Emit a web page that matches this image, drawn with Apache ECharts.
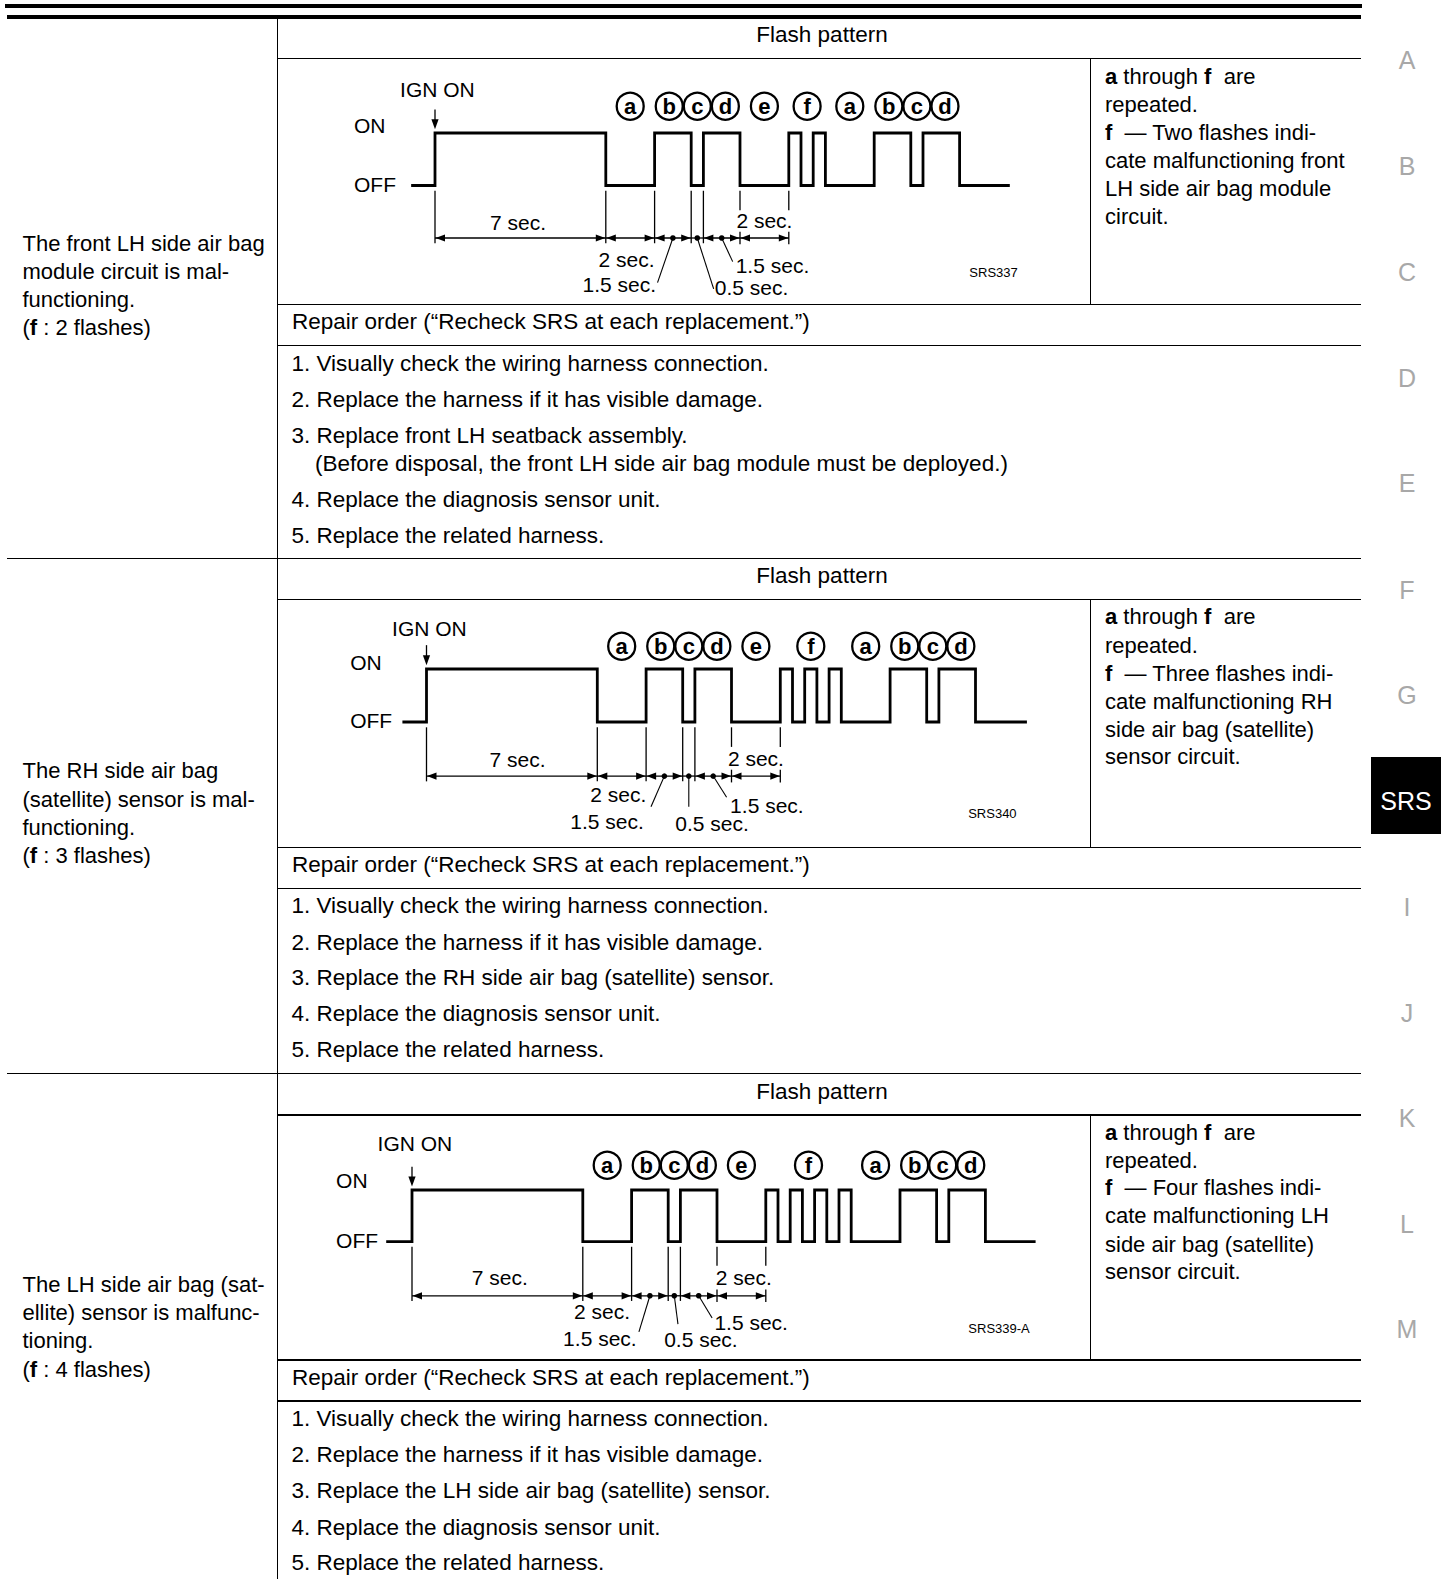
<!DOCTYPE html>
<html><head><meta charset="utf-8">
<script src="https://cdn.jsdelivr.net/npm/echarts@6/dist/echarts.min.js"></script>
<style>
html,body{margin:0;padding:0;background:#fff;}
body{width:1441px;height:1579px;position:relative;overflow:hidden;font-family:"Liberation Sans",Arial,Helvetica,sans-serif;color:#000;}
.ln{position:absolute;background:#000;}
.t{position:absolute;font-size:22px;line-height:28px;height:28px;white-space:nowrap;}
.mid{font-size:22.5px;}
.c{text-align:center;}
.m{position:absolute;font-size:25px;line-height:30px;height:30px;color:#a8a8a8;width:70px;text-align:center;}
.chart{position:absolute;}
</style></head><body>
<div id="d1" class="chart" style="left:278px;top:59px;width:811px;height:244px"></div>
<div id="d2" class="chart" style="left:278px;top:600px;width:811px;height:246px"></div>
<div id="d3" class="chart" style="left:278px;top:1116px;width:811px;height:243px"></div>
<script>
// ---------- DATA ----------
// flash patterns: transition times (seconds after IGN ON) and lamp state from that time (1 = ON, 0 = OFF)
const flashTimes1  = [-0.92, 0, 7, 9, 10.5, 11, 12.5, 14.5, 15, 15.5, 16, 18, 19.5, 20, 21.5, 23.5];
const flashStates1 = [0, 1, 0, 1, 0, 1, 0, 1, 0, 1, 0, 1, 0, 1, 0, 0];
const flashTimes2  = [-0.93, 0, 7, 9, 10.5, 11, 12.5, 14.5, 15, 15.5, 16, 16.5, 17, 19, 20.5, 21, 22.5, 24.55];
const flashStates2 = [0, 1, 0, 1, 0, 1, 0, 1, 0, 1, 0, 1, 0, 1, 0, 1, 0, 0];
const flashTimes3  = [-1.0, 0, 7, 9, 10.5, 11, 12.5, 14.5, 15, 15.5, 16, 16.5, 17, 17.5, 18, 20, 21.5, 22, 23.5, 25.5];
const flashStates3 = [0, 1, 0, 1, 0, 1, 0, 1, 0, 1, 0, 1, 0, 1, 0, 1, 0, 1, 0, 0];

// circled segment letters and the time spans they label
const letterNames  = ['a', 'b', 'c', 'd', 'e', 'f', 'a', 'b', 'c', 'd'];
const letterSpans1 = [[7,9],[9,10.5],[10.5,11],[11,12.5],[12.5,14.5],[14.5,16],[16,18],[18,19.5],[19.5,20],[20,21.5]];
const letterSpans2 = [[7,9],[9,10.5],[10.5,11],[11,12.5],[12.5,14.5],[14.5,17],[17,19],[19,20.5],[20.5,21],[21,22.5]];
const letterSpans3 = [[7,9],[9,10.5],[10.5,11],[11,12.5],[12.5,14.5],[14.5,18],[18,20],[20,21.5],[21.5,22],[22,23.5]];

// dimension annotations (seconds)
const dimSpans  = [[0,7],[7,9],[9,10.5],[10.5,11],[11,12.5],[12.5,14.5]];
const dimHeads  = [1, 1, 1, 0, 1, 1];
const dimDots   = [0, 0, 1, 1, 1, 0];
const dimLabels = ['7 sec.', '2 sec.', '1.5 sec.', '0.5 sec.', '1.5 sec.', '2 sec.'];
const extLong   = [0, 7, 9, 10.5, 11];
const extShort  = [12.5, 14.5];

// label positions per diagram (t in seconds, y in ON/OFF level units)
const labelT1 = [3.4, 7.85, 7.55, 12.97, 13.83, 13.5];
const labelY1 = [-0.7, -1.4, -1.89, -1.95, -1.52, -0.66];
const labelT2 = [3.73, 7.86, 7.4, 11.7, 13.95, 13.5];
const labelY2 = [-0.7, -1.36, -1.87, -1.92, -1.57, -0.69];
const labelT3 = [3.6, 7.79, 7.7, 11.84, 13.9, 13.6];
const labelY3 = [-0.7, -1.36, -1.87, -1.9, -1.56, -0.69];
const leadEnd1 = [[9.12,-1.85],[11.42,-1.97],[12.2,-1.45]];
const leadEnd2 = [[9.2,-1.6],[10.75,-1.6],[12.3,-1.42]];
const leadEnd3 = [[9.3,-1.75],[10.9,-1.6],[12.3,-1.48]];
const figCodes = ['SRS337', 'SRS340', 'SRS339-A'];

// ---------- PAGE TEXT ----------
const marginLetters = ['A','B','C','D','E','F','G','SRS','I','J','K','L','M'];
const marginY = [60.4, 166.2, 271.9, 377.6, 483.4, 590, 694.8, 800.8, 907.3, 1013, 1117.8, 1223.5, 1329.2];

const leftText = [
  ['The front LH side air bag','module circuit is mal-','functioning.','(<b>f</b> : 2 flashes)'],
  ['The RH side air bag','(satellite) sensor is mal-','functioning.','(<b>f</b> : 3 flashes)'],
  ['The LH side air bag (sat-','ellite) sensor is malfunc-','tioning.','(<b>f</b> : 4 flashes)']
];
const leftY = [[243.7,271.9,300,328.3],[771.4,799.6,827.8,856],[1285,1313,1341.3,1369.5]];
const rightText = [
  ['<b>a</b> through <b>f</b>&nbsp; are','repeated.','<b>f</b>&nbsp; — Two flashes indi-','cate malfunctioning front','LH side air bag module','circuit.'],
  ['<b>a</b> through <b>f</b>&nbsp; are','repeated.','<b>f</b>&nbsp; — Three flashes indi-','cate malfunctioning RH','side air bag (satellite)','sensor circuit.'],
  ['<b>a</b> through <b>f</b>&nbsp; are','repeated.','<b>f</b>&nbsp; — Four flashes indi-','cate malfunctioning LH','side air bag (satellite)','sensor circuit.']
];
const rightY = [[76.5,104.7,132.9,161.1,189.3,216.5],[617.3,645.5,673.7,701.9,730,757],[1133,1161,1188,1216,1244.7,1272]];
const headerY = [35.2, 576, 1091.6];
const repairY = [322, 865, 1377.6];
const listText = [
  ['1. Visually check the wiring harness connection.','2. Replace the harness if it has visible damage.','3. Replace front LH seatback assembly.','(Before disposal, the front LH side air bag module must be deployed.)','4. Replace the diagnosis sensor unit.','5. Replace the related harness.'],
  ['1. Visually check the wiring harness connection.','2. Replace the harness if it has visible damage.','3. Replace the RH side air bag (satellite) sensor.','4. Replace the diagnosis sensor unit.','5. Replace the related harness.'],
  ['1. Visually check the wiring harness connection.','2. Replace the harness if it has visible damage.','3. Replace the LH side air bag (satellite) sensor.','4. Replace the diagnosis sensor unit.','5. Replace the related harness.']
];
const listY = [[363.5,399.8,436,464.2,499.5,535.7],[906.3,942.6,977.8,1014,1050.3],[1418.9,1455,1491.4,1527.6,1562.9]];

// ---------- LAYOUT (page frame) ----------
const hLines = [[5,1361.5,4,4.3],[7,1361,14.7,4],
  [277,1361,57.5,1.5],[277,1361,303.5,1.5],[277,1361,344.5,1.5],[7,1361,557.5,1.5],
  [277,1361,598.5,1.5],[277,1361,846.5,1.5],[277,1361,887.5,1.5],[7,1361,1072.8,1.5],
  [277,1361,1114,1.5],[277,1361,1359,1.5],[277,1361,1400,1.5]];
const vLines = [[276.5,18.7,1579,1.5],[1089.5,58,304,1.5],[1089.5,599,847,1.5],[1089.5,1114.5,1359.5,1.5]];

const body = document.body;
function div(cls, style, html){ const e=document.createElement('div'); e.className=cls; e.setAttribute('style',style); if(html!==undefined) e.innerHTML=html; body.appendChild(e); return e; }
hLines.forEach(l=>div('ln',`left:${l[0]}px;top:${l[2]}px;width:${l[1]-l[0]}px;height:${l[3]}px`));
vLines.forEach(l=>div('ln',`left:${l[0]}px;top:${l[1]}px;width:${l[3]}px;height:${l[2]-l[1]}px`));

for(let s=0;s<3;s++){
  div('t c mid',`left:522px;width:600px;top:${headerY[s]-14}px`,'Flash pattern');
  div('t mid',`left:292px;top:${repairY[s]-14}px`,'Repair order (“Recheck SRS at each replacement.”)');
  leftText[s].forEach((h,i)=>div('t',`left:22.5px;top:${leftY[s][i]-14}px`,h));
  rightText[s].forEach((h,i)=>div('t',`left:1105px;top:${rightY[s][i]-14}px`,h));
  listText[s].forEach((h,i)=>{ const cont=h.charAt(0)==='('; div('t mid',`left:${cont?315:291.5}px;top:${listY[s][i]-14}px`,h); });
}
div('ln','left:1370.5px;top:757px;width:71px;height:77px;');
marginLetters.forEach((m,i)=>{
  const e=div('m',`left:1372px;top:${marginY[i]-15}px`,m);
  if(m==='SRS'){ e.style.color='#fff'; e.style.left='1371px'; }
});

// ---------- DIAGRAMS ----------
const PPS = 24.4;
const FONT = '21px "Liberation Sans", Arial, Helvetica, sans-serif';
const diagrams = [
  {id:'d1', cellLeft:278, cellTop:59, R:435, ON:133, OFF:185.5, times:flashTimes1, states:flashStates1, spans:letterSpans1,
   labelT:labelT1, labelY:labelY1, lead:leadEnd1, code:figCodes[0], codeT:21.9, codeY:-1.65, onT:-3.32, onY:1.15, ignT:-1.43, ignY:1.82, circY:1.51, dimY:-1.0},
  {id:'d2', cellLeft:278, cellTop:600, R:426.5, ON:669, OFF:722, times:flashTimes2, states:flashStates2, spans:letterSpans2,
   labelT:labelT2, labelY:labelY2, lead:leadEnd2, code:figCodes[1], codeT:22.2, codeY:-1.73, onT:-3.13, onY:1.13, ignT:-1.41, ignY:1.77, circY:1.43, dimY:-1.02},
  {id:'d3', cellLeft:278, cellTop:1116, R:412, ON:1190, OFF:1241.6, times:flashTimes3, states:flashStates3, spans:letterSpans3,
   labelT:labelT3, labelY:labelY3, lead:leadEnd3, code:figCodes[2], codeT:22.8, codeY:-1.69, onT:-3.11, onY:1.19, ignT:-1.41, ignY:1.91, circY:1.48, dimY:-1.05}
];

function build(d){
  const chart = echarts.init(document.getElementById(d.id), null, {renderer:'svg'});
  const XMIN=-4, XMAX=26;
  const texts = [];
  texts.push([d.onT, d.onY, 'ON', 'left', FONT]);
  texts.push([d.onT, 0.02, 'OFF', 'left', FONT]);
  texts.push([d.ignT, d.ignY, 'IGN ON', 'left', FONT]);
  dimLabels.forEach((s,i)=>texts.push([d.labelT[i], d.labelY[i], s, 'center', FONT]));
  texts.push([d.codeT, d.codeY, d.code, 'left', '13px "Liberation Sans", Arial, sans-serif']);

  const ext = extLong.map(t=>[t, -0.1, d.dimY-0.1]).concat(extShort.map(t=>[t, -0.1, -0.47]))
              .concat(extShort.map(t=>[t, d.dimY+0.12, d.dimY-0.12]));
  const dotIdx = [2,3,4];
  const leaders = dotIdx.map((k,i)=>[(dimSpans[k][0]+dimSpans[k][1])/2, d.dimY, d.lead[i][0], d.lead[i][1]]);
  const letters = d.spans.map((s,i)=>{
    let t=(s[0]+s[1])/2;
    if(letterNames[i]==='b') t-=0.15;
    if(letterNames[i]==='d') t+=0.15;
    return [t, d.circY];
  });

  const lineStyle = {stroke:'#000', lineWidth:1.3};
  chart.setOption({
    animation:false,
    grid:{left:d.R - 4*PPS - d.cellLeft, top:d.ON - d.cellTop, width:(XMAX-XMIN)*PPS, height:d.OFF-d.ON},
    xAxis:{type:'value', min:XMIN, max:XMAX, show:false},
    yAxis:{type:'value', min:0, max:1, show:false},
    series:[
      {type:'line', step:'end', symbol:'none', silent:true, clip:false,
       lineStyle:{color:'#000', width:2.8, cap:'square', join:'miter'},
       data:d.times.map((t,i)=>[t, d.states[i]])},
      {type:'custom', silent:true, clip:false, data:ext,
       renderItem:(p,api)=>{ const a=api.coord([api.value(0),api.value(1)]), b=api.coord([api.value(0),api.value(2)]);
         return {type:'line', shape:{x1:a[0],y1:a[1],x2:b[0],y2:b[1]}, style:lineStyle}; }},
      {type:'custom', silent:true, clip:false, data:dimSpans.map(s=>[s[0], d.dimY, s[1]]),
       renderItem:(p,api)=>{ const i=p.dataIndex;
         const a=api.coord([api.value(0),api.value(1)]), b=api.coord([api.value(2),api.value(1)]);
         const ch=[{type:'line', shape:{x1:a[0],y1:a[1],x2:b[0],y2:b[1]}, style:lineStyle}];
         if(dimHeads[i]){
           ch.push({type:'polygon', shape:{points:[[a[0]+0.5,a[1]],[a[0]+10,a[1]-3.6],[a[0]+10,a[1]+3.6]]}, style:{fill:'#000'}});
           ch.push({type:'polygon', shape:{points:[[b[0]-0.5,b[1]],[b[0]-10,b[1]-3.6],[b[0]-10,b[1]+3.6]]}, style:{fill:'#000'}});
         }
         if(dimDots[i]) ch.push({type:'circle', shape:{cx:(a[0]+b[0])/2, cy:a[1], r:2.8}, style:{fill:'#000'}});
         return {type:'group', children:ch}; }},
      {type:'custom', silent:true, clip:false, data:leaders,
       renderItem:(p,api)=>{ const a=api.coord([api.value(0),api.value(1)]), b=api.coord([api.value(2),api.value(3)]);
         return {type:'line', shape:{x1:a[0],y1:a[1],x2:b[0],y2:b[1]}, style:{stroke:'#000', lineWidth:1.1}}; }},
      {type:'custom', silent:true, clip:false, data:[[0, 1.45, 1.07]],
       renderItem:(p,api)=>{ const a=api.coord([api.value(0),api.value(1)]), b=api.coord([api.value(0),api.value(2)]);
         return {type:'group', children:[
           {type:'line', shape:{x1:a[0],y1:a[1],x2:b[0],y2:b[1]-8}, style:lineStyle},
           {type:'polygon', shape:{points:[[b[0],b[1]],[b[0]-3.6,b[1]-10],[b[0]+3.6,b[1]-10]]}, style:{fill:'#000'}}]}; }},
      {type:'custom', silent:true, clip:false, data:texts.map(x=>[x[0],x[1]]),
       renderItem:(p,api)=>{ const tx=texts[p.dataIndex]; const a=api.coord([api.value(0),api.value(1)]);
         return {type:'text', x:a[0], y:a[1], style:{text:tx[2], fill:'#000', font:tx[4], align:tx[3], verticalAlign:'middle'}}; }},
      {type:'scatter', silent:true, clip:false, symbol:'circle', symbolSize:27, data:letters,
       itemStyle:{color:'#fff', borderColor:'#000', borderWidth:2.3, opacity:1},
       label:{show:true, position:'inside', formatter:(p)=>letterNames[p.dataIndex], color:'#000',
              fontSize:22, fontWeight:'bold', fontFamily:'"Liberation Sans", Arial, sans-serif'}}
    ]
  });
}
diagrams.forEach(build);
</script>
</body></html>
